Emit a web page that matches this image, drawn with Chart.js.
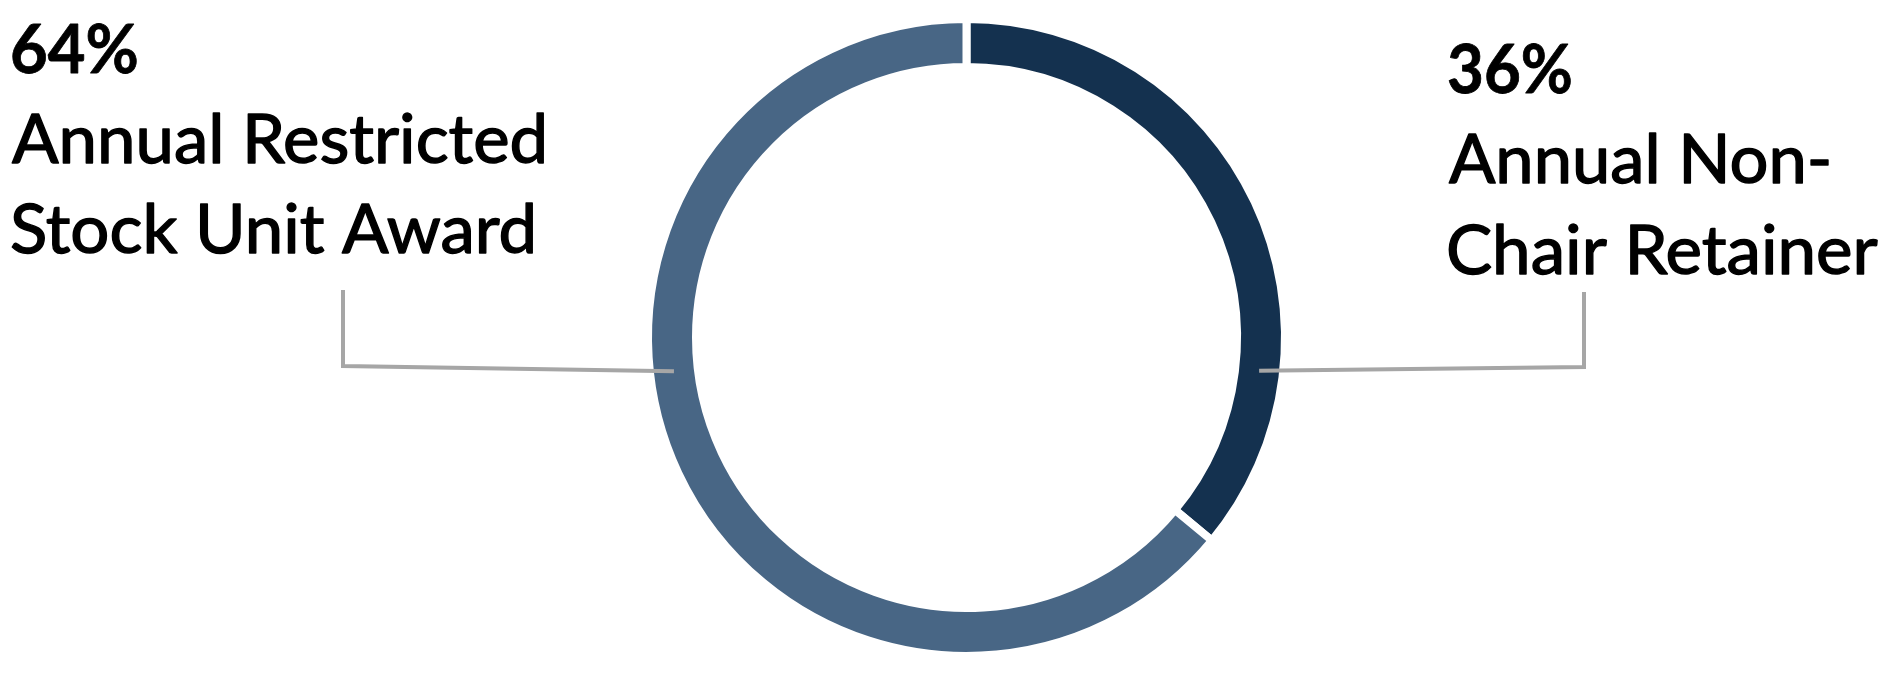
<!DOCTYPE html>
<html>
<head>
<meta charset="utf-8">
<script src="https://cdn.jsdelivr.net/npm/chart.js@4"></script>
<style>
  html, body { margin: 0; padding: 0; background: #ffffff; }
  #wrap { width: 1897px; height: 675px; position: relative; }
</style>
</head>
<body>
<div id="wrap"><canvas id="c"></canvas></div>
<script>
// ---- data ----
const categories = ["Annual Non-Chair Retainer", "Annual Restricted Stock Unit Award"];
const values = [36, 64];
const percentLabels = ["36%", "64%"];
const labelLines = [["Annual Non-", "Chair Retainer"], ["Annual Restricted", "Stock Unit Award"]];
const colors = ["#14314f", "#486685"];

// ---- label / leader placement (style, not data) ----
const labelLayout = [
  { x: 1449, baselines: [93, 183, 274], widths: [122, 380, 429], leaderX: 1584, leaderTop: 292, leaderY: 367, angleDeg: 6.5 },
  { x: 12,   baselines: [73, 163, 253], widths: [125, 532, 521], leaderX: 343,  leaderTop: 290, leaderY: 366, angleDeg: 173.4 }
];

function drawFit(ctx, text, x, baseline, width, font, strokeW) {
  ctx.font = font;
  const m = ctx.measureText(text);
  const w = m.actualBoundingBoxLeft + m.actualBoundingBoxRight;
  const sx = w > 0 ? width / w : 1;
  ctx.save();
  ctx.translate(x, baseline);
  ctx.scale(sx, 1);
  ctx.textAlign = 'left';
  ctx.textBaseline = 'alphabetic';
  ctx.fillText(text, m.actualBoundingBoxLeft, 0);
  if (strokeW) {
    ctx.lineWidth = strokeW;
    ctx.strokeStyle = ctx.fillStyle;
    ctx.lineJoin = 'round';
    ctx.strokeText(text, m.actualBoundingBoxLeft, 0);
  }
  ctx.restore();
}

const calloutPlugin = {
  id: 'callouts',
  afterDatasetsDraw(chart) {
    const ctx = chart.ctx;
    const meta = chart.getDatasetMeta(0);
    meta.data.forEach((arc, i) => {
      const L = labelLayout[i];
      const p = arc.getProps(['x', 'y', 'innerRadius', 'outerRadius'], true);
      const r = (p.innerRadius + p.outerRadius) / 2;
      const a = L.angleDeg * Math.PI / 180;
      const ex = p.x + Math.cos(a) * r;
      const ey = p.y + Math.sin(a) * r;
      ctx.save();
      ctx.strokeStyle = '#a6a6a6';
      ctx.lineWidth = 4;
      ctx.lineJoin = 'miter';
      ctx.beginPath();
      ctx.moveTo(L.leaderX, L.leaderTop);
      ctx.lineTo(L.leaderX, L.leaderY);
      ctx.lineTo(ex, ey);
      ctx.stroke();
      ctx.restore();

      ctx.save();
      ctx.fillStyle = '#000000';
      drawFit(ctx, percentLabels[i], L.x, L.baselines[0], L.widths[0], 'bold 67px Lato', 0.8);
      labelLines[i].forEach((line, j) => {
        drawFit(ctx, line, L.x, L.baselines[j + 1], L.widths[j + 1], '68px Lato', 1.4);
      });
      ctx.restore();
    });
  }
};

new Chart(document.getElementById('c'), {
  type: 'doughnut',
  data: {
    labels: categories,
    datasets: [{
      data: values,
      backgroundColor: colors,
      borderColor: '#ffffff',
      borderWidth: 8,
      borderAlign: 'center',
      hoverOffset: 0
    }]
  },
  options: {
    responsive: true,
    maintainAspectRatio: false,
    animation: false,
    devicePixelRatio: 1,
    radius: 318.5,
    cutout: '84.93%',
    layout: { padding: { left: 36, right: 0, top: 15, bottom: 15 } },
    plugins: {
      legend: { display: false },
      tooltip: { enabled: false }
    }
  },
  plugins: [calloutPlugin]
});
</script>
</body>
</html>
